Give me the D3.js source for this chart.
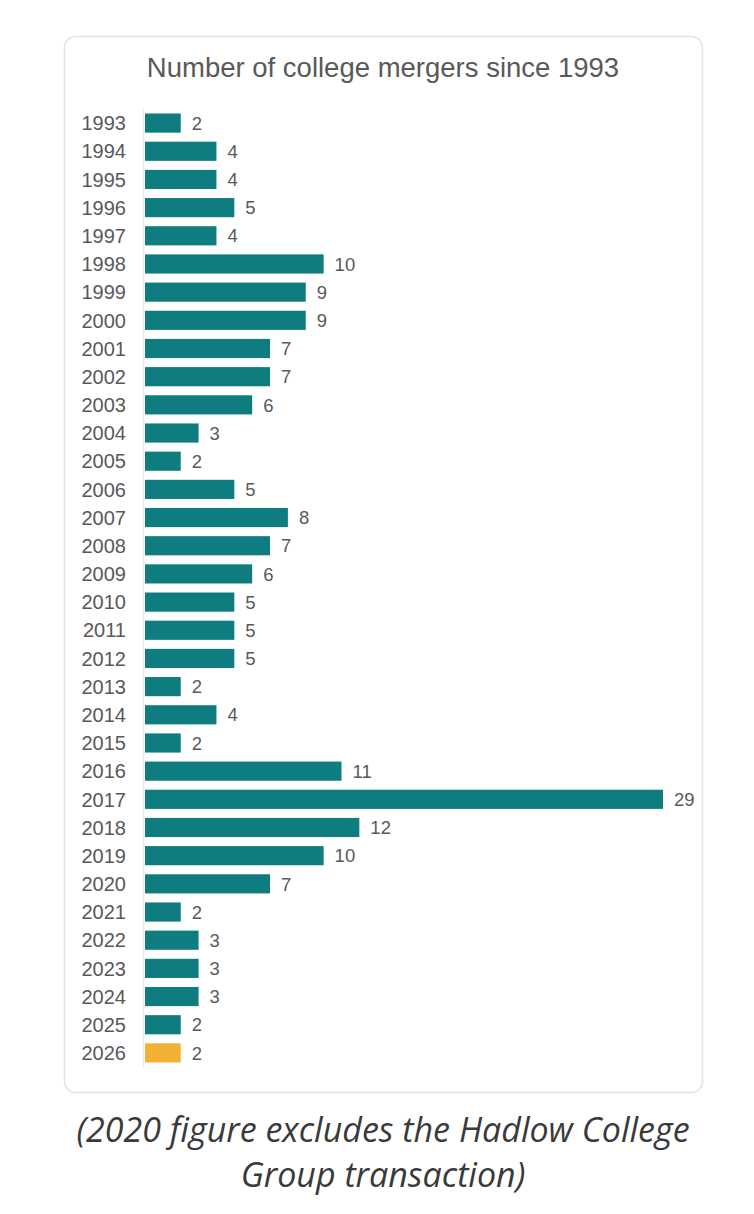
<!DOCTYPE html>
<html>
<head>
<meta charset="utf-8">
<script src="https://cdn.jsdelivr.net/npm/d3@7"></script>
<style>
  body { margin: 0; background: #fff; }
  #chart { position: absolute; left: 0; top: 0; }
</style>
</head>
<body>
<div id="chart"></div>
<script>
let w = 754;
let h = 1214;

// data
let years = ['1993','1994','1995','1996','1997','1998','1999','2000','2001','2002','2003','2004','2005','2006','2007','2008','2009','2010','2011','2012','2013','2014','2015','2016','2017','2018','2019','2020','2021','2022','2023','2024','2025','2026'];
let mergers = [2,4,4,5,4,10,9,9,7,7,6,3,2,5,8,7,6,5,5,5,2,4,2,11,29,12,10,7,2,3,3,3,2,2];
let title = 'Number of college mergers since 1993';
let caption = ['(2020 figure excludes the Hadlow College', 'Group transaction)'];

let svg = d3.select('#chart').
append('svg').
attr('width', w).
attr('height', h);

// card
svg.append('rect').
attr('x', 64.5).
attr('y', 36.5).
attr('width', 638).
attr('height', 1056).
attr('rx', 11).
style('fill', '#fff').
style('stroke', '#e3e3e3').
style('stroke-width', 1.5);

svg.append('text').
attr('x', 383).
attr('y', 77).
attr('text-anchor', 'middle').
style('font-family', 'Liberation Sans, Arial, sans-serif').
style('font-size', '27.5px').
style('fill', '#595959').
text(title);

let x = d3.scaleLinear().
domain([0, 29]).
range([145, 663]);

let y = d3.scaleBand().
domain(years).
range([109, 1067]).
paddingInner(0.32).
paddingOuter(0.16);

// axis line
svg.append('line').
attr('x1', 143.5).
attr('x2', 143.5).
attr('y1', 109).
attr('y2', 1067).
style('stroke', '#e6e6e6').
style('stroke-width', 1);

let rows = years.map((d, i) => ({ year: d, value: mergers[i] }));

svg.selectAll('.bar').
data(rows).
join('rect').
attr('class', 'bar').
attr('x', x(0)).
attr('y', d => y(d.year)).
attr('width', d => x(d.value) - x(0)).
attr('height', y.bandwidth()).
style('fill', d => d.year === '2026' ? '#f2b134' : '#0f7c80');

svg.selectAll('.year').
data(rows).
join('text').
attr('class', 'year').
attr('x', 126).
attr('y', d => y(d.year) + y.bandwidth() / 2).
attr('dy', '0.36em').
attr('text-anchor', 'end').
style('font-family', 'Liberation Sans, Arial, sans-serif').
style('font-size', '20px').
style('fill', '#595959').
text(d => d.year);

svg.selectAll('.val').
data(rows).
join('text').
attr('class', 'val').
attr('x', d => x(d.value) + 11).
attr('y', d => y(d.year) + y.bandwidth() / 2).
attr('dy', '0.36em').
style('font-family', 'Liberation Sans, Arial, sans-serif').
style('font-size', '18.5px').
style('fill', '#595959').
text(d => d.value);

svg.selectAll('.cap').
data(caption).
join('text').
attr('class', 'cap').
attr('x', 383).
attr('y', (d, i) => 1142 + i * 45).
attr('text-anchor', 'middle').
style('font-family', 'Open Sans, sans-serif').
style('font-style', 'italic').
style('font-size', '34px').
style('fill', '#3a3a3a').
text(d => d);
</script>
</body>
</html>
